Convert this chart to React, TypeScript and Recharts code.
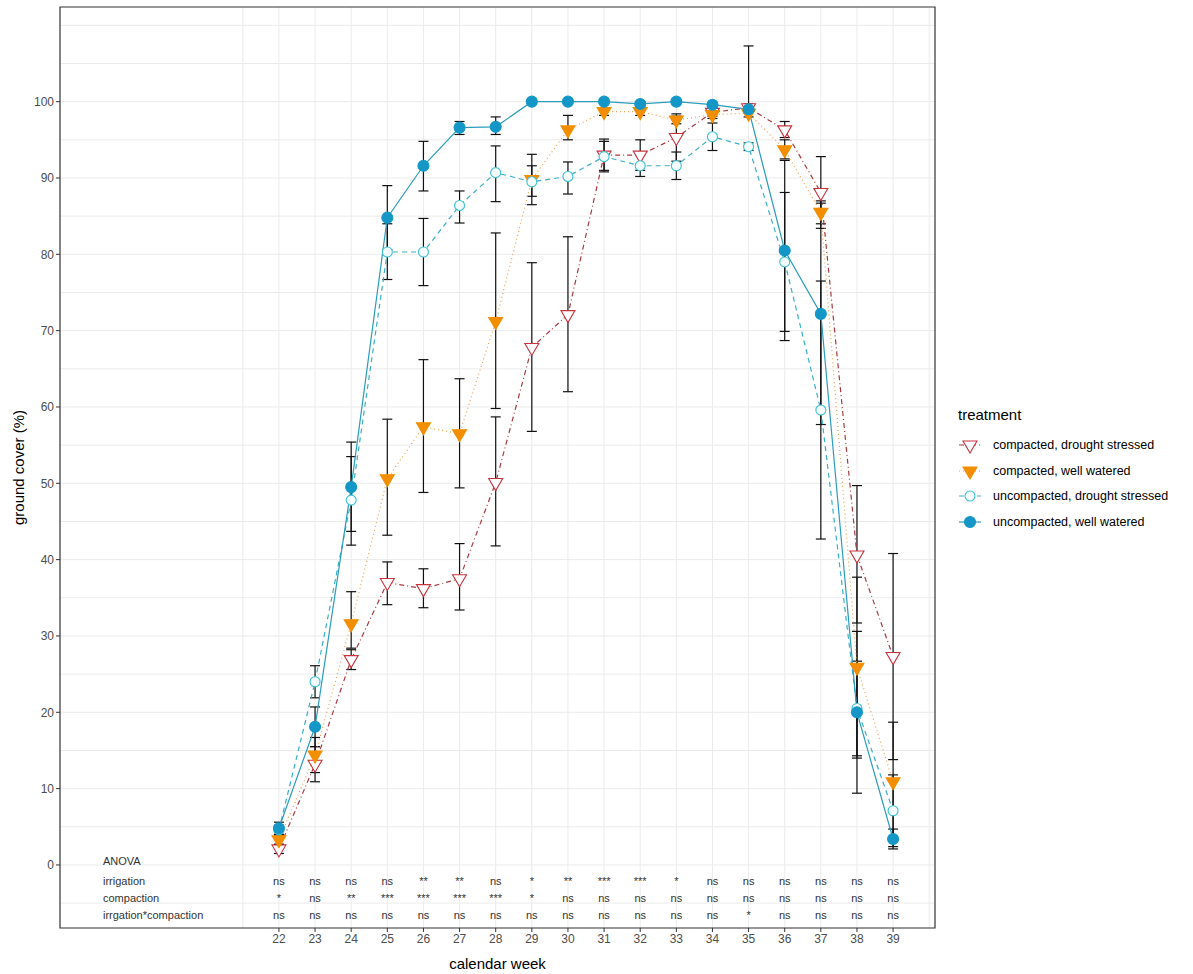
import React from "react";
import {
  CartesianGrid,
  ComposedChart,
  ErrorBar,
  Line,
  ReferenceArea,
  Scatter,
  XAxis,
  YAxis,
} from "recharts";

const FONT = '"Liberation Sans", Arial, sans-serif';

// calendar weeks
const weeks = [22, 23, 24, 25, 26, 27, 28, 29, 30, 31, 32, 33, 34, 35, 36, 37, 38, 39];

// compacted, drought stressed
const cdsMean = [2.1, 13.2, 26.9, 37.0, 36.2, 37.5, 50.1, 67.8, 72.1, 93.0, 93.0, 95.3, 98.6, 99.2, 96.3, 88.1, 40.6, 27.3];
const cdsLow = [1.5, 10.9, 25.6, 34.1, 33.7, 33.4, 41.8, 56.8, 62.0, 90.8, 91.0, 92.2, 98.1, 98.7, 95.3, 83.4, 31.7, 13.8];
const cdsHigh = [2.7, 15.5, 28.2, 39.7, 38.8, 42.1, 58.7, 78.9, 82.3, 95.1, 95.0, 98.4, 99.1, 99.7, 97.4, 92.8, 49.7, 40.8];

// compacted, well watered
const cwwMean = [3.3, 14.4, 31.6, 50.6, 57.4, 56.5, 71.2, 89.8, 96.3, 98.7, 98.7, 97.6, 98.3, 98.5, 93.7, 85.5, 25.9, 10.9];
const cwwLow = [2.7, 12.1, 28.4, 43.2, 48.8, 49.4, 59.8, 87.6, 95.0, 98.2, 98.2, 97.1, 97.8, 98.0, 92.5, 84.0, 14.0, 3.1];
const cwwHigh = [3.9, 16.7, 35.8, 58.4, 66.2, 63.7, 82.8, 91.6, 98.2, 99.2, 99.2, 98.1, 98.8, 99.0, 95.0, 87.0, 37.7, 18.7];

// uncompacted, drought stressed
const udsMean = [4.6, 24.0, 47.8, 80.3, 80.3, 86.4, 90.7, 89.5, 90.2, 92.8, 91.6, 91.6, 95.4, 94.1, 79.0, 59.6, 20.5, 7.1];
const udsLow = [4.0, 21.9, 41.9, 76.7, 75.9, 84.1, 86.9, 86.5, 87.9, 91.0, 90.2, 89.8, 93.6, 93.6, 69.9, 42.7, 14.3, 2.4];
const udsHigh = [5.2, 26.1, 53.5, 84.0, 84.7, 88.3, 94.2, 93.1, 92.1, 94.8, 93.0, 93.4, 97.2, 94.6, 88.1, 76.5, 26.7, 11.8];

// uncompacted, well watered
const uwwMean = [4.8, 18.1, 49.5, 84.8, 91.6, 96.6, 96.7, 100, 100, 100, 99.7, 100, 99.6, 99.0, 80.5, 72.2, 20.0, 3.4];
const uwwLow = [4.0, 15.5, 43.7, 80.6, 88.3, 95.7, 95.7, 100, 100, 100, 99.4, 100, 99.3, 99.0, 68.7, 57.7, 9.4, 2.1];
const uwwHigh = [5.6, 20.7, 55.4, 89.0, 94.8, 97.4, 98.0, 100, 100, 100, 100, 100, 99.9, 107.3, 92.3, 86.7, 30.6, 4.7];

// ANOVA significance rows
const anovaRowNames = ["irrigation", "compaction", "irrgation*compaction"];
const irrigationSig = ["ns", "ns", "ns", "ns", "**", "**", "ns", "*", "**", "***", "***", "*", "ns", "ns", "ns", "ns", "ns", "ns"];
const compactionSig = ["*", "ns", "**", "***", "***", "***", "***", "*", "ns", "ns", "ns", "ns", "ns", "ns", "ns", "ns", "ns", "ns"];
const interactionSig = ["ns", "ns", "ns", "ns", "ns", "ns", "ns", "ns", "ns", "ns", "ns", "ns", "ns", "*", "ns", "ns", "ns", "ns"];

const yTicks = [0, 10, 20, 30, 40, 50, 60, 70, 80, 90, 100];

const X_MIN = 15.94;
const X_MAX = 40.16;
const Y_MIN = -8.26;
const Y_MAX = 112.4;
const LABEL_X = 17.13;
const ANOVA_Y = 0.5;
const ROW_Y = [-2.1, -4.3, -6.55];

const gridX: number[] = [];
for (let v = 21; v <= 40; v += 0.5) gridX.push(v);
const gridY: number[] = [];
for (let v = -5; v <= 110; v += 5) gridY.push(v);

const COL = {
  cds: "#c8323c",
  cdsLine: "#a83a40",
  cww: "#f28e00",
  cwwLine: "#f0a24a",
  uds: "#3ec1d6",
  udsLine: "#3aafc5",
  uww: "#1497c7",
  uwwLine: "#2b9cbc",
};

const err = (m: number[], lo: number[], hi: number[], i: number) => [
  +(m[i] - lo[i]).toFixed(2),
  +(hi[i] - m[i]).toFixed(2),
];

const data = weeks.map((w, i) => ({
  week: w,
  cds: cdsMean[i],
  cww: cwwMean[i],
  uds: udsMean[i],
  uww: uwwMean[i],
  cdsErr: err(cdsMean, cdsLow, cdsHigh, i),
  cwwErr: err(cwwMean, cwwLow, cwwHigh, i),
  udsErr: err(udsMean, udsLow, udsHigh, i),
  uwwErr: err(uwwMean, uwwLow, uwwHigh, i),
}));

const sigRows = [irrigationSig, compactionSig, interactionSig];
const anovaData = [
  { week: LABEL_X, y: ANOVA_Y, label: "ANOVA", anchor: "start" },
  ...anovaRowNames.map((n, r) => ({ week: LABEL_X, y: ROW_Y[r], label: n, anchor: "start" })),
  ...sigRows.flatMap((row, r) =>
    row.map((s, i) => ({ week: weeks[i], y: ROW_Y[r], label: s, anchor: "middle" }))
  ),
];

function TriDown({ cx, cy, fill, stroke }: any) {
  if (cx == null || cy == null) return null;
  const s = 7;
  return (
    <polygon
      points={`${cx - s},${cy - 4} ${cx + s},${cy - 4} ${cx},${cy + 8}`}
      fill={fill}
      stroke={stroke}
      strokeWidth={1.1}
    />
  );
}

function Circ({ cx, cy, fill, stroke, r = 5 }: any) {
  if (cx == null || cy == null) return null;
  return <circle cx={cx} cy={cy} r={r} fill={fill} stroke={stroke} strokeWidth={1.1} />;
}

const series = [
  {
    key: "cds",
    name: "compacted, drought stressed",
    line: COL.cdsLine,
    dash: "5 3 1 3",
    dot: (p: any) => <TriDown key={`cds${p.index}`} cx={p.cx} cy={p.cy} fill="#fff" stroke={COL.cds} />,
  },
  {
    key: "cww",
    name: "compacted, well watered",
    line: COL.cwwLine,
    dash: "1 3",
    dot: (p: any) => <TriDown key={`cww${p.index}`} cx={p.cx} cy={p.cy} fill={COL.cww} stroke={COL.cww} />,
  },
  {
    key: "uds",
    name: "uncompacted, drought stressed",
    line: COL.udsLine,
    dash: "5 4",
    dot: (p: any) => <Circ key={`uds${p.index}`} cx={p.cx} cy={p.cy} fill="#f4fcfd" stroke={COL.uds} />,
  },
  {
    key: "uww",
    name: "uncompacted, well watered",
    line: COL.uwwLine,
    dash: undefined,
    dot: (p: any) => <Circ key={`uww${p.index}`} cx={p.cx} cy={p.cy} fill={COL.uww} stroke={COL.uww} r={5.5} />,
  },
];

const renderAnno = (p: any) => (
  <text
    x={p.cx}
    y={p.cy}
    textAnchor={p.payload.anchor}
    dominantBaseline="central"
    fontSize={11}
    fontFamily={FONT}
    fill="#333"
  >
    {p.payload.label}
  </text>
);

function LegendGlyph({ s }: any) {
  return (
    <svg width={24} height={18} style={{ display: "block" }}>
      <line x1={1} y1={9} x2={23} y2={9} stroke={s.line} strokeWidth={1.2} strokeDasharray={s.dash} />
      {s.dot({ cx: 12, cy: 9, index: 0 })}
    </svg>
  );
}

export default function App() {
  return (
    <div style={{ position: "absolute", left: 0, top: 0, width: 1193, height: 974, background: "#fff", fontFamily: FONT }}>
      <ComposedChart
        width={1193}
        height={974}
        data={data}
        margin={{ top: 7, right: 258, bottom: 0, left: 0 }}
      >
        <CartesianGrid
          stroke="#ebebeb"
          strokeWidth={1}
          horizontalValues={gridY}
          verticalValues={gridX}
        />
        <XAxis
          type="number"
          dataKey="week"
          domain={[X_MIN, X_MAX]}
          ticks={weeks}
          allowDataOverflow
          height={46}
          axisLine={false}
          tickLine={{ stroke: "#333" }}
          tickSize={4}
          tick={{ fontSize: 12, fill: "#4d4d4d", fontFamily: FONT }}
          label={{ value: "calendar week", position: "insideBottom", offset: 5, fontSize: 15, fill: "#000", fontFamily: FONT }}
        />
        <YAxis
          type="number"
          domain={[Y_MIN, Y_MAX]}
          ticks={yTicks}
          allowDataOverflow
          width={60}
          axisLine={false}
          tickLine={{ stroke: "#333" }}
          tickSize={4}
          tick={{ fontSize: 12, fill: "#4d4d4d", fontFamily: FONT }}
          label={{
            value: "ground cover (%)",
            angle: -90,
            position: "insideLeft",
            offset: 19,
            fontSize: 15,
            fill: "#000",
            fontFamily: FONT,
            style: { textAnchor: "middle" },
          }}
        />
        {series.map((s) => (
          <Line
            key={`e-${s.key}`}
            dataKey={s.key}
            stroke="none"
            dot={false}
            activeDot={false}
            legendType="none"
            isAnimationActive={false}
          >
            <ErrorBar dataKey={`${s.key}Err`} width={5} stroke="#111" strokeWidth={1.2} direction="y" />
          </Line>
        ))}
        {series.map((s) => (
          <Line
            key={`l-${s.key}`}
            dataKey={s.key}
            stroke={s.line}
            strokeWidth={1.2}
            strokeDasharray={s.dash}
            dot={false}
            activeDot={false}
            isAnimationActive={false}
          />
        ))}
        {series.map((s) => (
          <Line
            key={`p-${s.key}`}
            dataKey={s.key}
            stroke="none"
            dot={s.dot}
            activeDot={false}
            isAnimationActive={false}
          />
        ))}
        <Scatter data={anovaData} dataKey="y" shape={renderAnno} isAnimationActive={false} />
        <ReferenceArea
          x1={X_MIN}
          x2={X_MAX}
          y1={Y_MIN}
          y2={Y_MAX}
          fill="none"
          stroke="#333"
          strokeWidth={1.2}
          ifOverflow="visible"
        />
      </ComposedChart>
      <div style={{ position: "absolute", left: 958, top: 406, color: "#000" }}>
        <div style={{ fontSize: 15, marginBottom: 9 }}>treatment</div>
        {series.map((s) => (
          <div key={s.key} style={{ display: "flex", alignItems: "center", height: 25.7 }}>
            <LegendGlyph s={s} />
            <span style={{ fontSize: 12.5, marginLeft: 11 }}>{s.name}</span>
          </div>
        ))}
      </div>
    </div>
  );
}
